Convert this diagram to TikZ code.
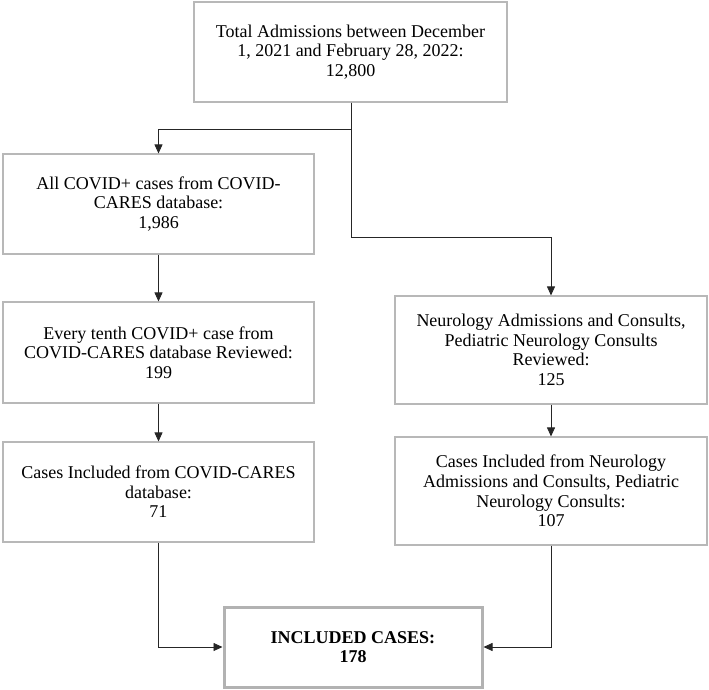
\documentclass[tikz,border=0pt]{standalone}
\usepackage{fontspec}
\setmainfont{Liberation Serif}
\usetikzlibrary{arrows.meta}
\begin{document}
\begin{tikzpicture}[x=1pt,y=-1pt,
  box/.style={draw=black!28, line width=1.1pt, fill=white, inner sep=0pt, align=center,
    font=\fontsize{18}{19.6}\selectfont},
  finalbox/.style={box, draw=black!30, line width=3pt},
  arr/.style={draw=black!85, line width=0.8pt, -{Triangle[length=9pt,width=8pt]}},
  ln/.style={draw=black!85, line width=0.8pt}]
\useasboundingbox (0,0) rectangle (709,690);
\node[box, minimum width=313pt, minimum height=100pt] (top) at (350.5,52)
  {Total Admissions between December\\1, 2021 and February 28, 2022:\\12,800};
\node[box, minimum width=311pt, minimum height=100pt] (l1) at (158.5,204)
  {All COVID+ cases from COVID-\\CARES database:\\1,986};
\node[box, minimum width=311pt, minimum height=101pt] (l2) at (158.5,352.5)
  {Every tenth COVID+ case from\\COVID-CARES database Reviewed:\\199};
\node[box, minimum width=311pt, minimum height=100pt] (l3) at (158.5,492)
  {Cases Included from COVID-CARES\\database:\\71};
\node[box, minimum width=312pt, minimum height=108pt] (r1) at (551,350)
  {Neurology Admissions and Consults,\\Pediatric Neurology Consults\\Reviewed:\\125};
\node[box, minimum width=312pt, minimum height=108pt] (r2) at (551,491)
  {Cases Included from Neurology\\Admissions and Consults, Pediatric\\Neurology Consults:\\107};
\node[finalbox, minimum width=258pt, minimum height=80pt] (fin) at (353,647)
  {\textbf{INCLUDED CASES:}\\\textbf{178}};
\coordinate (jl) at (351,129);
\coordinate (jr) at (351,237);
\draw[arr] (top.south -| jl) -- (jl) -| (l1.north);
\draw[arr] (top.south -| jl) -- (jr) -| (r1.north);
\draw[arr] (l1) -- (l2);
\draw[arr] (l2) -- (l3);
\draw[arr] (r1) -- (r2);
\draw[arr] (l3.south) |- (fin.west);
\draw[arr] (r2.south) |- (fin.east);
\end{tikzpicture}
\end{document}
